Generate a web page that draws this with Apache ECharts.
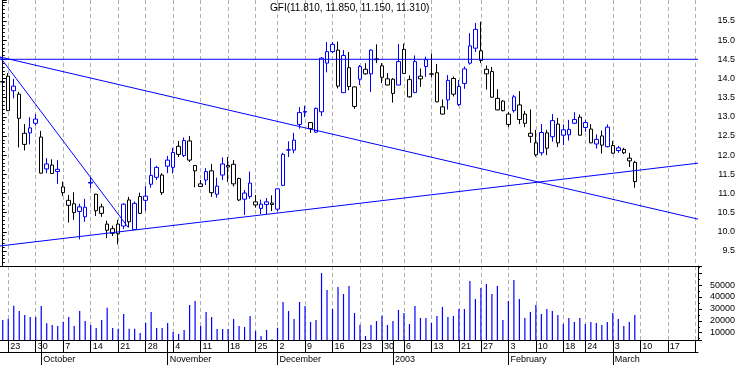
<!DOCTYPE html>
<html><head><meta charset="utf-8">
<script src="https://cdn.jsdelivr.net/npm/echarts@6/dist/echarts.min.js"></script>
<style>html,body{margin:0;padding:0;background:#fff}#c{width:738px;height:365px}</style>
</head><body><div id="c"></div>
<script>
const dates = [
'2002-09-20','2002-09-23','2002-09-24','2002-09-25','2002-09-26','2002-09-27','2002-09-30',
'2002-10-01','2002-10-02','2002-10-03','2002-10-04','2002-10-07','2002-10-08','2002-10-09','2002-10-10','2002-10-11','2002-10-14','2002-10-15','2002-10-16','2002-10-17','2002-10-18','2002-10-21','2002-10-22','2002-10-23','2002-10-24','2002-10-25','2002-10-28','2002-10-29','2002-10-30','2002-10-31',
'2002-11-01','2002-11-04','2002-11-05','2002-11-06','2002-11-07','2002-11-08','2002-11-11','2002-11-12','2002-11-13','2002-11-14','2002-11-15','2002-11-18','2002-11-19','2002-11-20','2002-11-21','2002-11-22','2002-11-25','2002-11-26','2002-11-27','2002-11-29',
'2002-12-02','2002-12-03','2002-12-04','2002-12-05','2002-12-06','2002-12-09','2002-12-10','2002-12-11','2002-12-12','2002-12-13','2002-12-16','2002-12-17','2002-12-18','2002-12-19','2002-12-20','2002-12-23','2002-12-24','2002-12-26','2002-12-27','2002-12-30','2002-12-31',
'2003-01-02','2003-01-03','2003-01-06','2003-01-07','2003-01-08','2003-01-09','2003-01-10','2003-01-13','2003-01-14','2003-01-15','2003-01-16','2003-01-17','2003-01-21','2003-01-22','2003-01-23','2003-01-24','2003-01-27','2003-01-28','2003-01-29','2003-01-30','2003-01-31',
'2003-02-03','2003-02-04','2003-02-05','2003-02-06','2003-02-07','2003-02-10','2003-02-11','2003-02-12','2003-02-13','2003-02-14','2003-02-18','2003-02-19','2003-02-20','2003-02-21','2003-02-24','2003-02-25','2003-02-26','2003-02-27','2003-02-28',
'2003-03-03','2003-03-04','2003-03-05','2003-03-06','2003-03-07','2003-03-10','2003-03-11','2003-03-12','2003-03-13','2003-03-14','2003-03-17','2003-03-18','2003-03-19','2003-03-20','2003-03-21','2003-03-24'
];

const open = [13.92,14.06,13.68,13.59,12.28,12.71,12.94,12.47,11.77,11.74,
11.57,11.17,10.69,10.73,10.65,10.39,11.27,10.98,10.65,10.04,
10.08,10.20,10.15,10.83,10.06,10.92,10.82,11.24,11.42,11.48,
11.71,11.68,12.23,11.99,12.37,11.73,11.25,11.35,11.59,10.98,
11.48,11.73,11.76,11.39,11.01,10.92,10.78,10.61,10.71,10.75,
10.59,11.21,12.13,12.13,12.80,13.12,12.85,12.60,13.13,14.40,
14.70,14.74,13.63,14.28,13.27,13.98,14.24,14.12,14.51,14.33,
13.83,13.61,13.83,14.76,13.97,13.63,14.06,14.31,14.12,14.15,
13.07,13.44,14.00,13.32,13.87,14.40,14.79,14.72,14.12,14.18,
13.18,13.41,13.07,13.16,13.31,13.07,12.49,12.32,12.06,12.58,
12.48,12.81,12.52,12.53,12.93,12.99,12.85,12.68,12.29,12.50,
12.22,12.25,12.12,12.15,11.92,11.81];

const high = [14.04,14.14,13.99,13.65,12.81,12.99,13.07,12.63,11.92,11.89,
11.87,11.31,10.96,11.03,10.73,10.86,11.42,10.99,10.73,10.29,
10.16,10.31,10.74,10.91,10.79,11.02,11.19,11.92,11.72,11.53,
11.98,12.19,12.37,12.46,12.50,11.74,11.35,11.66,11.77,11.41,
11.94,11.95,11.87,11.41,11.09,11.57,10.96,10.84,10.88,10.95,
11.13,12.06,12.36,12.58,13.25,13.29,12.86,13.24,14.56,14.95,
14.95,14.96,14.74,14.69,13.79,14.35,14.40,14.76,14.89,14.40,
14.14,14.01,14.90,14.91,14.08,14.60,14.26,14.57,14.65,14.38,
13.45,14.09,14.05,13.96,14.31,15.18,15.45,15.48,14.34,14.30,
13.72,13.43,13.13,13.57,13.67,13.15,13.19,12.66,12.81,12.66,
13.07,12.97,12.80,12.92,13.12,13.06,12.92,12.81,12.54,12.64,
12.80,12.37,12.24,12.19,12.06,11.85];

const low = [13.79,13.15,13.48,12.20,12.12,12.28,12.77,11.52,11.53,11.51,
11.25,10.93,10.24,10.31,9.80,10.26,11.13,10.41,10.39,9.83,
9.89,9.67,10.07,10.12,10.05,10.46,10.55,11.15,11.35,10.96,
11.53,11.52,11.95,11.95,11.82,11.16,11.17,11.22,10.91,10.89,
11.35,11.30,11.18,10.80,10.44,10.86,10.63,10.46,10.46,10.54,
10.53,11.19,11.95,12.05,12.69,12.99,12.58,12.58,13.02,14.16,
14.66,13.74,13.62,13.69,13.21,13.83,14.10,13.65,14.40,13.88,
13.82,13.37,13.82,14.12,13.50,13.62,13.78,14.04,14.03,13.38,
13.06,13.19,13.53,13.28,13.73,14.36,14.69,14.40,13.71,13.50,
13.17,13.14,12.73,13.11,12.81,12.73,12.32,11.96,11.99,12.00,
12.35,12.21,12.26,12.38,12.81,12.51,12.61,12.31,12.17,12.04,
12.20,12.03,12.06,12.03,11.69,11.15];

const close = [13.91,13.16,13.80,12.96,12.57,12.58,12.83,11.53,11.64,11.52,
11.63,11.02,10.82,10.50,10.53,10.64,11.29,10.55,10.48,10.20,
9.96,9.95,10.72,10.26,10.74,10.48,10.93,11.47,11.68,11.02,
11.87,12.07,12.02,12.38,11.87,11.59,11.18,11.57,11.02,11.19,
11.77,11.69,11.25,10.83,10.85,11.27,10.70,10.72,10.78,10.71,
11.12,12.02,12.14,12.39,13.11,13.14,12.69,13.22,14.53,14.70,
14.89,13.80,14.60,13.79,13.78,14.31,14.12,14.74,14.49,14.03,
13.99,13.98,14.44,14.13,13.52,14.44,13.99,14.49,14.11,13.39,
13.26,13.95,13.59,13.79,14.25,14.85,15.28,14.47,14.24,13.51,
13.48,13.16,12.80,13.52,12.93,12.83,12.57,12.01,12.59,12.18,
12.90,12.32,12.66,12.67,12.83,12.52,12.72,12.32,12.41,12.26,
12.73,12.05,12.19,12.06,11.85,11.31];

const volume = [20700,21500,32700,28200,24900,23200,23200,32400,17900,16500,
15600,19300,23200,15600,28200,19800,16500,13900,20700,31000,
13900,13400,25700,13400,13400,9700,18200,27400,13900,13900,
18200,10600,8900,12300,33300,36600,15600,27400,23200,13100,
13100,13100,21500,15600,14800,24000,11400,7200,12300,4500,
14200,35800,28200,21500,35800,32400,19000,20700,60200,45900,
29900,48400,42500,49200,26600,16500,7200,16500,19800,24300,
16500,19800,29100,26600,17300,32400,22400,22400,18200,24000,
31600,23200,24000,29900,29900,53400,38300,47600,50900,42500,
49200,20700,36600,54300,38300,22400,27400,33300,25700,29900,
28200,24900,17300,22400,19000,22400,17300,19000,18200,16500,
19000,26600,21500,15600,19000,24900];

// trend lines: [category position, price]
const trendHoriz = [[-0.5, 14.5], [126.5, 14.5]];
const trendFall  = [[-0.5, 14.56], [126.5, 10.33]];
const trendRise  = [[-0.5, 9.63], [126.5, 11.79]];
const trendSteep = [[-0.5, 14.56], [22.84, 10.11]];

const titleText = 'GFI(11.810, 11.850, 11.150, 11.310)';
const monthNames = ['January','February','March','April','May','June','July','August','September','October','November','December'];
const priceLabels = ['9.5','10.0','10.5','11.0','11.5','12.0','12.5','13.0','13.5','14.0','14.5','15.0','15.5'];
const volumeLabels = ['10000','20000','30000','40000','50000'];

const BLUE = '#0000ff', BLACK = '#000000';
const day = s => new Date(s + 'T00:00:00Z');
const isWeekStart = dates.map((d, i) => i > 0 && (day(d).getUTCDay() < day(dates[i-1]).getUTCDay() || (day(d) - day(dates[i-1])) >= 7*864e5));
const isMonthStart = dates.map((d, i) => i > 0 && d.slice(5,7) !== dates[i-1].slice(5,7));

const candleData = open.map((o, i) => {
  const col = (i > 0 && close[i] > close[i-1]) ? BLUE : BLACK;
  return { value: [o, close[i], low[i], high[i]],
    itemStyle: { color: '#ffffff', color0: col, borderColor: col, borderColor0: col, borderWidth: 1 } };
});

const fmtPrice = v => { const s = (Math.round(v*10)/10).toFixed(1); return (Math.abs(v - parseFloat(s)) < 1e-6 && priceLabels.includes(s)) ? s : ''; };
const fmtVol = v => volumeLabels.includes(String(Math.round(v))) && Math.abs(v-Math.round(v))<1e-6 ? String(Math.round(v)) : '';

const gridDash = { show: true, alignWithLabel: true, interval: i => isWeekStart[i], lineStyle: { color: '#b0b0b0', type: [4,3], width: 1 } };
const lineSeries = (data) => ({ type: 'line', xAxisIndex: 1, yAxisIndex: 0, data, symbol: 'none', silent: true, z: 5,
  lineStyle: { color: BLUE, width: 1 }, animation: false });

const chart = echarts.init(document.getElementById('c'), null, { renderer: 'canvas' });
chart.setOption({
  animation: false,
  backgroundColor: '#ffffff',
  textStyle: { fontFamily: 'Liberation Sans, Arial, sans-serif' },
  title: { text: titleText, left: 270, top: 3, padding: 0,
    textStyle: { fontSize: 10, fontWeight: 'normal', color: '#000', fontFamily: 'Liberation Sans, Arial, sans-serif' } },
  grid: [
    { left: 0, right: 40, top: 0, height: 266 },
    { left: 0, right: 40, top: 266, height: 74 }
  ],
  xAxis: [
    { type: 'category', gridIndex: 0, data: dates, boundaryGap: true,
      axisLine: { show: true, lineStyle: { color: '#000', width: 1 } },
      axisTick: { show: false }, axisLabel: { show: false }, splitLine: gridDash },
    { type: 'value', gridIndex: 0, min: -0.5, max: dates.length - 0.5, show: false },
    { type: 'category', gridIndex: 1, data: dates, boundaryGap: true, position: 'bottom',
      axisLine: { show: true, lineStyle: { color: '#000', width: 1 } },
      axisTick: { show: true, alignWithLabel: true, length: 12, interval: i => isWeekStart[i] || isMonthStart[i], lineStyle: { color: '#000' } },
      axisLabel: { show: true, interval: i => isWeekStart[i] && i < dates.length - 1, formatter: v => String(+v.slice(8)),
        align: 'left', padding: [0,0,0,2], margin: 2, fontSize: 9, color: '#000' },
      splitLine: gridDash },
    { type: 'category', gridIndex: 1, data: dates, boundaryGap: true, position: 'bottom', offset: 12,
      axisLine: { show: true, lineStyle: { color: '#000', width: 1 } },
      axisTick: { show: true, alignWithLabel: true, length: 13, interval: i => isMonthStart[i], lineStyle: { color: '#000' } },
      axisLabel: { show: true, interval: i => isMonthStart[i],
        formatter: v => { const m = +v.slice(5,7); return m === 1 ? v.slice(0,4) : monthNames[m-1]; },
        align: 'left', padding: [0,0,0,2], margin: 3, fontSize: 9, color: '#000' },
      splitLine: { show: false } }
  ],
  yAxis: [
    { type: 'value', gridIndex: 0, position: 'right', min: 9.107, max: 16.047, splitNumber: 14,
      axisLine: { show: true, lineStyle: { color: '#000' } },
      axisTick: { show: true, length: 4, lineStyle: { color: '#000' } },
      minorTick: { show: true, splitNumber: 5, length: 2, lineStyle: { color: '#000' } },
      splitLine: { show: false },
      axisLabel: { formatter: fmtPrice, align: 'right', margin: 37, fontSize: 9, color: '#000' } },
    { type: 'value', gridIndex: 1, position: 'right', min: 3866, max: 66050, splitNumber: 6,
      axisLine: { show: true, lineStyle: { color: '#000' } },
      axisTick: { show: true, length: 4, lineStyle: { color: '#000' } },
      minorTick: { show: true, splitNumber: 2, length: 2, lineStyle: { color: '#000' } },
      splitLine: { show: false },
      axisLabel: { formatter: fmtVol, align: 'right', margin: 37, fontSize: 9, color: '#000' } }
  ],
  series: [
    { type: 'candlestick', xAxisIndex: 0, yAxisIndex: 0, data: candleData, barWidth: 4, z: 3 },
    { type: 'bar', xAxisIndex: 2, yAxisIndex: 1, data: volume, barWidth: 1.2, itemStyle: { color: BLUE } },
    lineSeries(trendHoriz), lineSeries(trendFall), lineSeries(trendRise), lineSeries(trendSteep)
  ]
});
</script></body></html>
